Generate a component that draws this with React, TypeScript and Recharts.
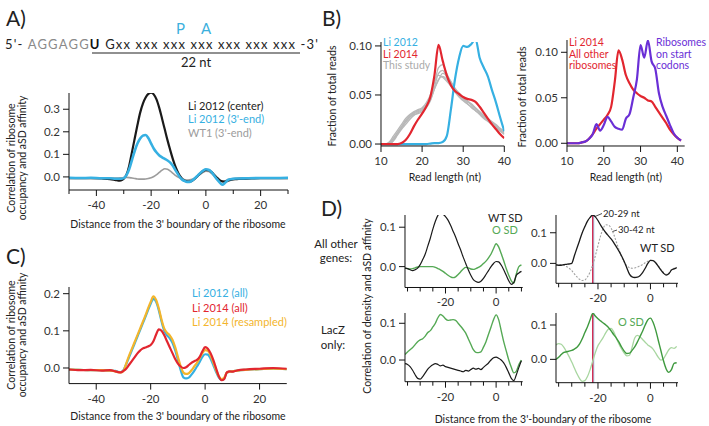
import React from 'react';
import { LineChart, Line, XAxis, YAxis, ReferenceLine } from 'recharts';

const FONT = 'Lato, "Open Sans", sans-serif';

// ---- Panel A: correlation vs distance ----
const distA = [-50, -46, -42, -38, -35, -33, -32, -31, -30, -29, -28, -27, -26, -25, -24, -23, -22, -21, -20, -19, -18, -17, -16, -15, -14, -13, -12, -11, -10, -9, -8, -7, -6, -5, -4, -3, -2, -1, 0, 1, 2, 3, 4, 5, 6, 7, 8, 9, 10, 11, 12, 15, 20, 25, 30];
const centerA = [-0.005, -0.006, -0.005, -0.007, -0.01, -0.014, -0.016, -0.015, -0.008, 0.01, 0.05, 0.11, 0.17, 0.23, 0.285, 0.325, 0.352, 0.368, 0.373, 0.365, 0.343, 0.305, 0.258, 0.21, 0.162, 0.118, 0.077, 0.042, 0.015, -0.003, -0.015, -0.02, -0.021, -0.017, -0.008, 0.004, 0.016, 0.026, 0.031, 0.03, 0.022, 0.01, -0.003, -0.014, -0.02, -0.021, -0.017, -0.013, -0.011, -0.01, -0.009, -0.008, -0.006, -0.006, -0.005];
const threeEndA = [-0.004, -0.005, -0.004, -0.006, -0.006, -0.008, -0.008, -0.008, -0.005, 0.008, 0.035, 0.075, 0.115, 0.148, 0.17, 0.183, 0.186, 0.172, 0.148, 0.125, 0.108, 0.095, 0.087, 0.08, 0.073, 0.063, 0.048, 0.028, 0.008, -0.008, -0.017, -0.022, -0.022, -0.016, -0.006, 0.006, 0.018, 0.028, 0.034, 0.032, 0.022, 0.006, -0.01, -0.024, -0.035, -0.026, -0.014, -0.01, -0.008, -0.007, -0.007, -0.006, -0.005, -0.005, -0.004];
const wt1A = [-0.004, -0.004, -0.004, -0.005, -0.005, -0.005, -0.005, -0.004, -0.003, -0.002, -0.003, -0.005, -0.007, -0.009, -0.01, -0.01, -0.009, -0.007, -0.004, 0.002, 0.01, 0.02, 0.03, 0.036, 0.034, 0.026, 0.016, 0.006, -0.002, -0.008, -0.012, -0.014, -0.013, -0.01, -0.004, 0.004, 0.012, 0.02, 0.025, 0.024, 0.016, 0.005, -0.006, -0.015, -0.02, -0.018, -0.012, -0.009, -0.007, -0.006, -0.006, -0.005, -0.005, -0.004, -0.004];

// ---- Panel B: read length distributions ----
const lenB = [10, 11, 12, 13, 14, 15, 16, 17, 18, 19, 20, 21, 22, 23, 24, 25, 26, 27, 28, 29, 30, 31, 32, 33, 34, 35, 36, 37, 38, 39, 40];
const li2012B = [0, 0, 0, 0, 0, 0, 0, 0, 0, 0, 0, 0, 0.0005, 0.001, 0.001, 0.002, 0.008, 0.035, 0.066, 0.088, 0.1, 0.099, 0.102, 0.107, 0.088, 0.078, 0.069, 0.055, 0.042, 0.027, 0.013];
const li2014B = [0, 0, 0, 0, 0, 0.001, 0.004, 0.01, 0.018, 0.025, 0.031, 0.038, 0.048, 0.07, 0.101, 0.085, 0.07, 0.06, 0.054, 0.051, 0.048, 0.046, 0.045, 0.043, 0.038, 0.032, 0.026, 0.02, 0.015, 0.01, 0.006];
const study1 = [0, 0, 0.001, 0.006, 0.012, 0.018, 0.024, 0.029, 0.032, 0.034, 0.036, 0.04, 0.048, 0.062, 0.078, 0.081, 0.072, 0.063, 0.056, 0.05, 0.046, 0.043, 0.04, 0.036, 0.032, 0.028, 0.025, 0.022, 0.019, 0.015, 0.012];
const study2 = [0, 0, 0, 0.004, 0.01, 0.016, 0.022, 0.027, 0.031, 0.033, 0.035, 0.039, 0.046, 0.058, 0.072, 0.075, 0.068, 0.06, 0.054, 0.049, 0.045, 0.041, 0.037, 0.034, 0.031, 0.027, 0.024, 0.02, 0.017, 0.014, 0.01];
const study3 = [0, 0, 0.002, 0.008, 0.014, 0.02, 0.026, 0.03, 0.033, 0.035, 0.037, 0.042, 0.05, 0.064, 0.07, 0.068, 0.064, 0.059, 0.053, 0.048, 0.044, 0.041, 0.038, 0.034, 0.03, 0.026, 0.023, 0.02, 0.017, 0.013, 0.01];
const study4 = [0, 0, 0.001, 0.005, 0.011, 0.017, 0.023, 0.028, 0.03, 0.031, 0.033, 0.037, 0.044, 0.056, 0.066, 0.069, 0.066, 0.061, 0.056, 0.051, 0.047, 0.044, 0.041, 0.037, 0.033, 0.029, 0.025, 0.022, 0.018, 0.014, 0.011];
const study5 = [0, 0, 0, 0.003, 0.009, 0.015, 0.02, 0.025, 0.029, 0.032, 0.034, 0.038, 0.045, 0.056, 0.065, 0.072, 0.07, 0.064, 0.057, 0.052, 0.048, 0.044, 0.04, 0.036, 0.033, 0.029, 0.026, 0.023, 0.02, 0.016, 0.013];

const lenBR = [10, 11, 12, 13, 14, 15, 16, 17, 18, 19, 20, 21, 22, 23, 24, 25, 26, 27, 28, 29, 30, 31, 32, 33, 34, 35, 36, 37, 38, 39, 40, 41];
const otherRiboBR = [0, 0, 0, 0, 0.001, 0.002, 0.005, 0.01, 0.016, 0.021, 0.026, 0.031, 0.04, 0.068, 0.102, 0.092, 0.075, 0.066, 0.059, 0.055, 0.052, 0.05, 0.047, 0.046, 0.04, 0.034, 0.028, 0.022, 0.015, 0.01, 0.006, 0.003];
const startCodonBR = [0, 0, 0, 0, 0.001, 0.002, 0.005, 0.01, 0.021, 0.014, 0.02, 0.029, 0.024, 0.018, 0.016, 0.015, 0.027, 0.032, 0.05, 0.07, 0.108, 0.094, 0.113, 0.09, 0.082, 0.055, 0.04, 0.03, 0.02, 0.011, 0.006, 0.003];

// ---- Panel C ----
const distC = [-50, -46, -42, -38, -35, -33, -32, -31, -30, -29, -28, -27, -26, -25, -24, -23, -22, -21, -20, -19, -18, -17, -16, -15, -14, -13, -12, -11, -10, -9, -8, -7, -6, -5, -4, -3, -2, -1, 0, 1, 2, 3, 4, 5, 6, 7, 8, 9, 10, 11, 12, 15, 20, 25, 30];
const li2012C = [-0.004, -0.005, -0.006, -0.006, -0.007, -0.008, -0.01, -0.011, -0.006, 0.01, 0.028, 0.046, 0.064, 0.082, 0.1, 0.118, 0.136, 0.155, 0.173, 0.186, 0.178, 0.155, 0.125, 0.1, 0.088, 0.08, 0.068, 0.048, 0.022, -0.005, -0.025, -0.028, -0.026, -0.018, -0.008, 0.004, 0.016, 0.03, 0.037, 0.036, 0.025, 0.008, -0.01, -0.025, -0.032, -0.028, -0.012, -0.01, -0.009, -0.008, -0.007, -0.005, -0.003, -0.002, -0.003];
const resampledC = [-0.004, -0.005, -0.006, -0.006, -0.007, -0.009, -0.011, -0.012, -0.008, 0.012, 0.032, 0.05, 0.068, 0.086, 0.104, 0.122, 0.14, 0.16, 0.178, 0.193, 0.183, 0.16, 0.13, 0.106, 0.095, 0.088, 0.076, 0.056, 0.03, 0.005, -0.012, -0.016, -0.014, -0.006, 0.004, 0.014, 0.026, 0.04, 0.048, 0.046, 0.034, 0.015, -0.005, -0.022, -0.03, -0.026, -0.012, -0.01, -0.009, -0.008, -0.007, -0.005, -0.003, -0.002, -0.003];
const li2014C = [-0.004, -0.006, -0.005, -0.007, -0.006, -0.009, -0.011, -0.012, -0.008, -0.002, 0.008, 0.018, 0.028, 0.038, 0.046, 0.052, 0.055, 0.058, 0.062, 0.072, 0.09, 0.104, 0.1, 0.088, 0.072, 0.056, 0.04, 0.024, 0.012, 0.004, 0, 0.002, 0.008, 0.014, 0.018, 0.022, 0.03, 0.045, 0.056, 0.052, 0.04, 0.022, 0, -0.022, -0.033, -0.03, -0.012, -0.009, -0.01, -0.008, -0.006, -0.004, -0.002, 0, -0.002];

// ---- Panel D ----
const distD = [-36, -35, -34, -33, -32, -31, -30, -29, -28, -27, -26, -25, -24, -23, -22, -21, -20, -19, -18, -17, -16, -15, -14, -13, -12, -11, -10, -9, -8, -7, -6, -5, -4, -3, -2, -1, 0, 1, 2, 3, 4, 5, 6, 7, 8, 9, 10];
const otherWtD = [-0.004, -0.005, -0.008, -0.01, -0.008, -0.004, 0.005, 0.018, 0.032, 0.052, 0.072, 0.095, 0.115, 0.13, 0.137, 0.133, 0.127, 0.118, 0.105, 0.09, 0.075, 0.058, 0.042, 0.024, 0.008, -0.008, -0.022, -0.033, -0.038, -0.04, -0.037, -0.03, -0.02, -0.01, 0, 0.008, 0.013, 0.012, 0.004, -0.008, -0.022, -0.036, -0.045, -0.04, -0.022, -0.016, -0.012];
const otherOD = [-0.004, -0.005, -0.006, -0.005, -0.003, -0.001, 0, 0, 0, 0, 0, 0, -0.002, -0.005, -0.008, -0.012, -0.017, -0.022, -0.026, -0.028, -0.026, -0.02, -0.013, -0.006, -0.002, -0.003, -0.006, -0.007, -0.005, -0.002, 0.002, 0.008, 0.014, 0.022, 0.032, 0.046, 0.058, 0.05, 0.033, 0.015, -0.005, -0.022, -0.036, -0.042, -0.018, 0, 0.004];
const lacZOD = [0.015, 0.022, 0.028, 0.034, 0.042, 0.05, 0.055, 0.058, 0.065, 0.075, 0.08, 0.09, 0.1, 0.115, 0.124, 0.12, 0.112, 0.108, 0.109, 0.11, 0.108, 0.1, 0.092, 0.083, 0.073, 0.058, 0.043, 0.028, 0.021, 0.02, 0.022, 0.035, 0.05, 0.07, 0.09, 0.11, 0.123, 0.11, 0.08, 0.05, 0.025, 0, -0.02, -0.035, -0.03, -0.012, 0];
const lacZWtD = [-0.01, -0.012, -0.018, -0.028, -0.04, -0.05, -0.052, -0.045, -0.035, -0.025, -0.018, -0.013, -0.01, -0.012, -0.016, -0.014, -0.018, -0.02, -0.022, -0.024, -0.026, -0.028, -0.03, -0.032, -0.028, -0.03, -0.026, -0.022, -0.025, -0.023, -0.026, -0.02, -0.014, -0.008, 0, 0.006, 0.008, 0.005, 0, -0.008, -0.02, -0.035, -0.05, -0.056, -0.04, -0.02, -0.002];
const wtShortD = [-0.005, -0.006, -0.006, -0.004, -0.003, -0.002, 0, 0.025, 0.05, 0.075, 0.1, 0.12, 0.138, 0.15, 0.158, 0.152, 0.14, 0.125, 0.112, 0.1, 0.09, 0.08, 0.068, 0.054, 0.04, 0.024, 0.006, -0.015, -0.035, -0.044, -0.046, -0.045, -0.04, -0.03, -0.016, 0, 0.01, 0.009, 0.002, -0.01, -0.022, -0.032, -0.038, -0.034, -0.022, -0.018, -0.014];
const wtLongD = [-0.005, -0.005, -0.004, -0.006, -0.01, -0.016, -0.024, -0.034, -0.044, -0.052, -0.056, -0.054, -0.044, -0.028, -0.005, 0.025, 0.058, 0.09, 0.115, 0.126, 0.125, 0.115, 0.095, 0.07, 0.045, 0.022, 0.004, -0.008, -0.014, -0.016, -0.015, -0.012, -0.008, -0.004, 0.002, 0.007, 0.01, 0.009, 0.002, -0.008, -0.02, -0.03, -0.036, -0.032, -0.02, -0.016, -0.013];
const oShortD = [0, 0.006, 0.014, 0.02, 0.022, 0.024, 0.026, 0.03, 0.035, 0.045, 0.06, 0.078, 0.095, 0.115, 0.134, 0.126, 0.118, 0.112, 0.106, 0.1, 0.093, 0.083, 0.072, 0.062, 0.05, 0.036, 0.024, 0.017, 0.018, 0.026, 0.036, 0.05, 0.066, 0.082, 0.1, 0.115, 0.12, 0.108, 0.085, 0.055, 0.025, -0.005, -0.028, -0.038, -0.03, -0.012, -0.01];
const oLongD = [0.042, 0.046, 0.044, 0.035, 0.022, 0.008, -0.008, -0.025, -0.042, -0.056, -0.064, -0.062, -0.05, -0.03, -0.005, 0.02, 0.04, 0.052, 0.064, 0.078, 0.088, 0.09, 0.08, 0.062, 0.045, 0.03, 0.018, 0.01, 0.012, 0.035, 0.062, 0.07, 0.066, 0.058, 0.05, 0.042, 0.037, 0.03, 0.018, 0.006, -0.002, 0.002, 0.015, 0.028, 0.034, 0.032, 0.038];
const sdPosition = -22;

const rowsA = distA.map((x, i) => ({ x, center: centerA[i], threeEnd: threeEndA[i], wt1: wt1A[i] }));
const rowsBL = lenB.map((x, i) => ({ x, li2012: li2012B[i], li2014: li2014B[i], s1: study1[i], s2: study2[i], s3: study3[i], s4: study4[i], s5: study5[i] }));
const rowsBR = lenBR.map((x, i) => ({ x, other: otherRiboBR[i], start: startCodonBR[i] }));
const rowsC = distC.map((x, i) => ({ x, li2012: li2012C[i], resampled: resampledC[i], li2014: li2014C[i] }));
const rowsD = distD.map((x, i) => ({ x, oWt: otherWtD[i], oO: otherOD[i], lWt: lacZWtD[i], lO: lacZOD[i], wtS: wtShortD[i], wtL: wtLongD[i], oS: oShortD[i], oL: oLongD[i] }));

const XTick = (props: any) => {
  const { x, y, payload, labels } = props;
  const major = labels.includes(payload.value);
  return (
    <g>
      <line x1={x} x2={x} y1={y} y2={y + (major ? 6 : 4)} stroke="#111" strokeWidth={1} />
      {major && (
        <text x={x} y={y + 19} textAnchor="middle" fontSize={11.5} fontFamily={FONT} fill="#333">
          {String(payload.value)}
        </text>
      )}
    </g>
  );
};

const YTick = (props: any) => {
  const { x, y, payload, digits } = props;
  return (
    <g>
      <line x1={x - 6} x2={x} y1={y} y2={y} stroke="#111" strokeWidth={1} />
      <text x={x - 9} y={y + 4} textAnchor="end" fontSize={11.5} fontFamily={FONT} fill="#333">
        {Number(payload.value).toFixed(digits)}
      </text>
    </g>
  );
};

type Series = { key: string; color: string; width: number; dash?: string };

const Panel = ({ plot, xDomain, yDomain, xTicks, xLabels, yTicks, yDigits, rows, series, children }: any) => {
  const YW = 40, MT = 4, MR = 12, XH = 26;
  const [x0, x1, y0, y1] = plot;
  const w = YW + (x1 - x0) + MR;
  const h = MT + (y1 - y0) + XH;
  return (
    <div style={{ position: 'absolute', left: x0 - YW, top: y0 - MT, width: w, height: h }}>
      <LineChart width={w} height={h} data={rows} margin={{ top: MT, right: MR, bottom: 0, left: 0 }}>
        <XAxis
          type="number" dataKey="x" domain={xDomain} allowDataOverflow ticks={xTicks} interval={0}
          height={XH} tickLine={false} tickSize={0} tickMargin={0} axisLine={{ stroke: '#111' }}
          tick={(p: any) => <XTick {...p} labels={xLabels} />}
        />
        <YAxis
          type="number" domain={yDomain} allowDataOverflow ticks={yTicks} interval={0}
          width={YW} tickLine={false} tickSize={0} tickMargin={0} axisLine={{ stroke: '#111' }}
          tick={(p: any) => <YTick {...p} digits={yDigits} />}
        />
        {children}
        {series.map((s: Series) => (
          <Line
            key={s.key} dataKey={s.key} type="monotone" stroke={s.color} strokeWidth={s.width}
            strokeDasharray={s.dash} dot={false} activeDot={false} isAnimationActive={false}
          />
        ))}
      </LineChart>
    </div>
  );
};

const BLUE = '#36b0e2';
const RED = '#e2262f';
const ORANGE = '#f3b52c';
const PURPLE = '#6a2fd6';
const GREEN = '#55a955';
const DKGREEN = '#3f9a3f';
const LTGREEN = '#a8d6a0';
const BLACK = '#1a1a1a';

const distTicks = [-50, -40, -30, -20, -10, 0, 10, 20, 30];
const distLabels = [-40, -20, 0, 20];
const dTicks = [-35, -30, -25, -20, -15, -10, -5, 0, 5, 10];
const dLabels = [-20, 0];

const T = (p: any) => (
  <text fontFamily={FONT} fill={p.fill || '#222'} fontSize={p.size || 11} x={p.x} y={p.y} textAnchor={p.anchor || 'start'}
    transform={p.rot ? `rotate(-90 ${p.x} ${p.y})` : undefined}>
    {p.children}
  </text>
);

export default function App() {
  return (
    <div style={{ position: 'absolute', left: 0, top: 0, width: 709, height: 426, background: '#fff', overflow: 'hidden', fontFamily: FONT }}>
      {/* A */}
      <Panel
        plot={[69, 288, 93, 190]} xDomain={[-50, 30]} yDomain={[-0.058, 0.372]}
        xTicks={distTicks} xLabels={distLabels} yTicks={[0, 0.1, 0.2, 0.3]} yDigits={1} rows={rowsA}
        series={[
          { key: 'wt1', color: '#9c9c9c', width: 1.6 },
          { key: 'center', color: BLACK, width: 2.2 },
          { key: 'threeEnd', color: BLUE, width: 2.6 },
        ]}
      />
      {/* B left */}
      <Panel
        plot={[380.7, 504, 42, 146]} xDomain={[10, 40]} yDomain={[-0.002, 0.104]}
        xTicks={[10, 20, 30, 40]} xLabels={[10, 20, 30, 40]} yTicks={[0, 0.05, 0.1]} yDigits={2} rows={rowsBL}
        series={[
          { key: 's1', color: '#b8b8b8', width: 1.3 },
          { key: 's2', color: '#b8b8b8', width: 1.3 },
          { key: 's3', color: '#b8b8b8', width: 1.3 },
          { key: 's4', color: '#b8b8b8', width: 1.3 },
          { key: 's5', color: '#b8b8b8', width: 1.3 },
          { key: 'li2012', color: BLUE, width: 2.2 },
          { key: 'li2014', color: RED, width: 2.2 },
        ]}
      />
      {/* B right */}
      <Panel
        plot={[567.3, 685, 40, 146]} xDomain={[10, 42]} yDomain={[-0.003, 0.1135]}
        xTicks={[10, 20, 30, 40]} xLabels={[10, 20, 30, 40]} yTicks={[0, 0.05, 0.1]} yDigits={2} rows={rowsBR}
        series={[
          { key: 'other', color: RED, width: 2.2 },
          { key: 'start', color: PURPLE, width: 2.2 },
        ]}
      />
      {/* C */}
      <Panel
        plot={[68.8, 286.6, 286.7, 383.3]} xDomain={[-50, 30]} yDomain={[-0.042, 0.218]}
        xTicks={[-40, -20, 0, 20]} xLabels={distLabels} yTicks={[0, 0.1, 0.2]} yDigits={1} rows={rowsC}
        series={[
          { key: 'li2012', color: BLUE, width: 2.2 },
          { key: 'resampled', color: ORANGE, width: 2.2 },
          { key: 'li2014', color: RED, width: 2.2 },
        ]}
      />
      {/* D top left */}
      <Panel
        plot={[405, 522.7, 215, 287.5]} xDomain={[-36, 10.5]} yDomain={[-0.053, 0.131]}
        xTicks={dTicks} xLabels={dLabels} yTicks={[0, 0.1]} yDigits={1} rows={rowsD}
        series={[
          { key: 'oO', color: GREEN, width: 1.4 },
          { key: 'oWt', color: BLACK, width: 1.2 },
        ]}
      />
      {/* D bottom left */}
      <Panel
        plot={[405, 522.7, 313, 381.7]} xDomain={[-36, 10.5]} yDomain={[-0.059, 0.128]}
        xTicks={dTicks} xLabels={dLabels} yTicks={[0, 0.1]} yDigits={1} rows={rowsD}
        series={[
          { key: 'lO', color: GREEN, width: 1.4 },
          { key: 'lWt', color: BLACK, width: 1.2 },
        ]}
      />
      {/* D top right */}
      <Panel
        plot={[556, 678, 215, 283.3]} xDomain={[-36, 10.5]} yDomain={[-0.065, 0.158]}
        xTicks={dTicks} xLabels={dLabels} yTicks={[0, 0.1]} yDigits={1} rows={rowsD}
        series={[
          { key: 'wtL', color: '#a0a0a0', width: 1.1, dash: '2 1.5' },
          { key: 'wtS', color: BLACK, width: 1.3 },
        ]}
      >
        <ReferenceLine x={sdPosition + 0.4} stroke="#8fd0ee" strokeWidth={1} />
        <ReferenceLine x={sdPosition} stroke="#d2284f" strokeWidth={1.4} />
      </Panel>
      {/* D bottom right */}
      <Panel
        plot={[556, 678, 313, 382.7]} xDomain={[-36, 10.5]} yDomain={[-0.068, 0.135]}
        xTicks={dTicks} xLabels={dLabels} yTicks={[0, 0.1]} yDigits={1} rows={rowsD}
        series={[
          { key: 'oL', color: LTGREEN, width: 1.3 },
          { key: 'oS', color: DKGREEN, width: 1.4 },
        ]}
      >
        <ReferenceLine x={sdPosition + 0.4} stroke="#8fd0ee" strokeWidth={1} />
        <ReferenceLine x={sdPosition} stroke="#d2284f" strokeWidth={1.4} />
      </Panel>

      <svg width={709} height={426} style={{ position: 'absolute', left: 0, top: 0, pointerEvents: 'none' }}>
        {/* panel letters */}
        <T x={6} y={26} size={21}>A)</T>
        <T x={322} y={26} size={21}>B)</T>
        <T x={6} y={264} size={21}>C)</T>
        <T x={321} y={216} size={21}>D)</T>

        {/* sequence */}
        <text x={5} y={48.5} fontSize={13} fontFamily={FONT} textLength={313} lengthAdjust="spacing">
          <tspan fill="#222">5'- </tspan>
          <tspan fill="#8a8a8a">AGGAGG</tspan>
          <tspan fill="#111" fontWeight="bold">U</tspan>
          <tspan fill="#222"> Gxx xxx xxx xxx xxx xxx xxx -3'</tspan>
        </text>
        <T x={180.5} y={33.5} size={15} anchor="middle" fill="#3cb0dd">P</T>
        <T x={206} y={33.5} size={15} anchor="middle" fill="#3cb0dd">A</T>
        <line x1={92} x2={300} y1={53} y2={53} stroke="#222" strokeWidth={1.2} />
        <T x={196} y={67} size={13} anchor="middle">22 nt</T>

        {/* A legend + labels */}
        <T x={188} y={110}>Li 2012 (center)</T>
        <T x={188} y={123} fill={BLUE}>Li 2012 (3'-end)</T>
        <T x={188} y={137} fill="#9c9c9c">WT1 (3'-end)</T>
        <T x={15} y={158} size={10.5} anchor="middle" rot>Correlation of ribosome</T>
        <T x={25.5} y={158} size={10.5} anchor="middle" rot>occupancy and aSD affinity</T>
        <T x={178} y={228} size={10.5} anchor="middle">Distance from the 3' boundary of the ribosome</T>

        {/* B */}
        <T x={383} y={46} size={10.5} fill={BLUE}>Li 2012</T>
        <T x={383} y={57.5} size={10.5} fill={RED}>Li 2014</T>
        <T x={383} y={69} size={10.5} fill="#aaa">This study</T>
        <T x={336} y={96} size={10.5} anchor="middle" rot>Fraction of total reads</T>
        <T x={445} y={181} size={10.5} anchor="middle">Read length (nt)</T>
        <T x={569} y={46} size={10.5} fill={RED}>Li 2014</T>
        <T x={569} y={57.5} size={10.5} fill={RED}>All other</T>
        <T x={569} y={69} size={10.5} fill={RED}>ribosomes</T>
        <T x={656} y={46} size={10.5} fill={PURPLE}>Ribosomes</T>
        <T x={656} y={57.5} size={10.5} fill={PURPLE}>on start</T>
        <T x={656} y={69} size={10.5} fill={PURPLE}>codons</T>
        <T x={526} y={97} size={10.5} anchor="middle" rot>Fraction of total reads</T>
        <T x={626} y={181} size={10.5} anchor="middle">Read length (nt)</T>

        {/* C */}
        <T x={192} y={297} fill={BLUE}>Li 2012 (all)</T>
        <T x={192} y={311.5} fill={RED}>Li 2014 (all)</T>
        <T x={192} y={326} fill={ORANGE}>Li 2014 (resampled)</T>
        <T x={15} y={335} size={10.5} anchor="middle" rot>Correlation of ribosome</T>
        <T x={25.5} y={335} size={10.5} anchor="middle" rot>occupancy and aSD affinity</T>
        <T x={178} y={420} size={10.5} anchor="middle">Distance from the 3' boundary of the ribosome</T>

        {/* D */}
        <T x={336} y={247.5} size={11.5} anchor="middle">All other</T>
        <T x={336} y={261.5} size={11.5} anchor="middle">genes:</T>
        <T x={333} y={334} size={11.5} anchor="middle">LacZ</T>
        <T x={333} y={348.5} size={11.5} anchor="middle">only:</T>
        <T x={371} y={306} size={10.5} anchor="middle" rot>Correlation of density and aSD affinity</T>
        <T x={488} y={222}>WT SD</T>
        <T x={492} y={234} fill={GREEN}>O SD</T>
        <line x1={595} y1={216.5} x2={602} y2={213.5} stroke="#222" strokeWidth={0.8} />
        <T x={603} y={217} size={9.5}>20-29 nt</T>
        <line x1={612.5} y1={231.5} x2={617} y2={230} stroke="#222" strokeWidth={0.8} />
        <T x={618} y={233} size={9.5}>30-42 nt</T>
        <T x={640} y={252}>WT SD</T>
        <T x={618} y={326} fill={GREEN}>O SD</T>
        <T x={543} y={423} size={10.5} anchor="middle">Distance from the 3'-boundary of the ribosome</T>
      </svg>
    </div>
  );
}
